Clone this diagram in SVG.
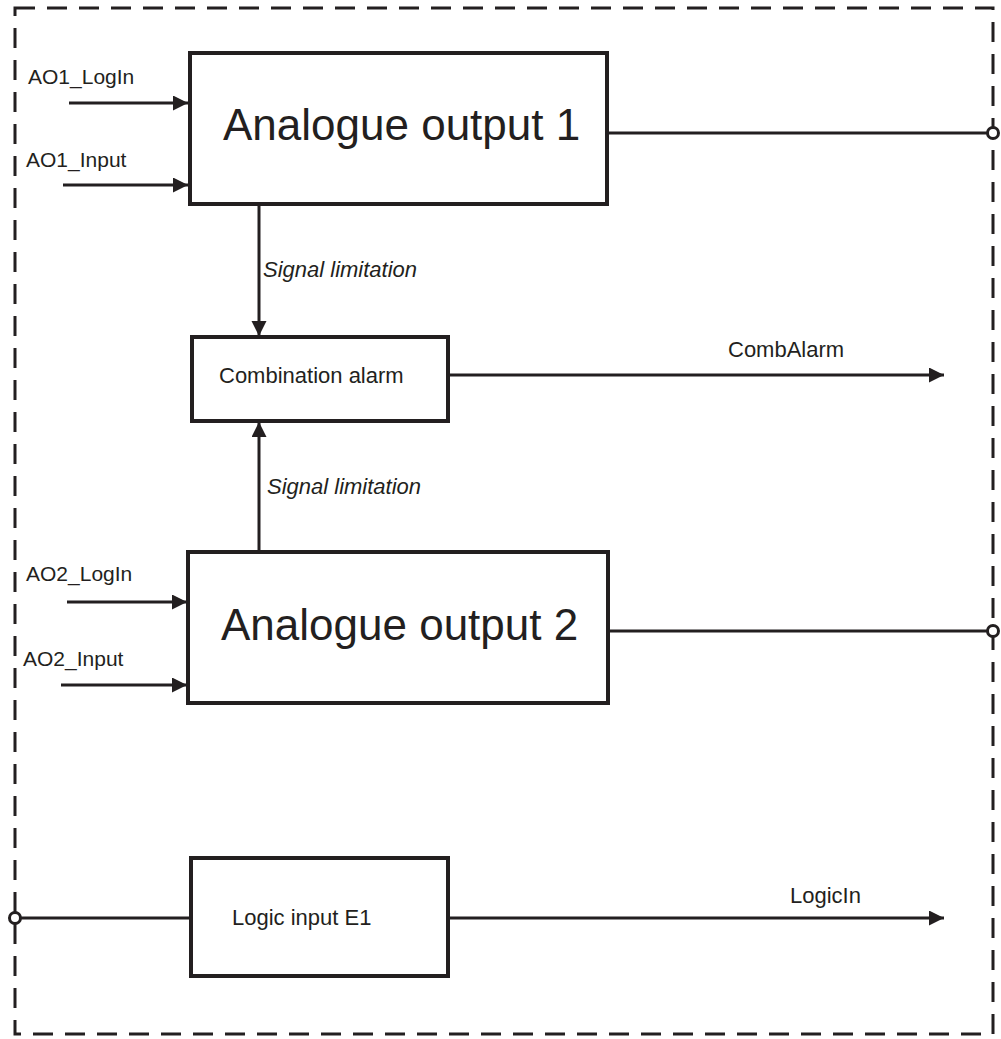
<svg xmlns="http://www.w3.org/2000/svg" width="1001" height="1039" viewBox="0 0 1001 1039">
<style>
.box{fill:#fff;stroke:#231f20;stroke-width:4}
.ln{fill:none;stroke:#231f20;stroke-width:3}
.t{font-family:"Liberation Sans",Arial,sans-serif;fill:#231f20}
.s{font-size:22px}
.a{font-size:21px}
.b{font-size:44px}
.i{font-style:italic}
.port{fill:#fff;stroke:#231f20;stroke-width:3}
</style>
<defs>
<marker id="ah" markerWidth="16" markerHeight="16" refX="15" refY="7.5" orient="auto" markerUnits="userSpaceOnUse">
<path d="M0,0 L15,7.5 L0,15 Z" fill="#231f20"/>
</marker>
</defs>
<rect x="15" y="8" width="978" height="1026" fill="none" stroke="#231f20" stroke-width="3" stroke-dasharray="20 12"/>
<g id="connectors">
<line class="ln" x1="69" y1="103" x2="188" y2="103" marker-end="url(#ah)"/>
<line class="ln" x1="63" y1="185" x2="188" y2="185" marker-end="url(#ah)"/>
<line class="ln" x1="607" y1="133" x2="987" y2="133"/>
<line class="ln" x1="259" y1="205" x2="259" y2="336" marker-end="url(#ah)"/>
<line class="ln" x1="259" y1="551" x2="259" y2="422" marker-end="url(#ah)"/>
<line class="ln" x1="448" y1="375" x2="944" y2="375" marker-end="url(#ah)"/>
<line class="ln" x1="67" y1="602" x2="187" y2="602" marker-end="url(#ah)"/>
<line class="ln" x1="61" y1="685" x2="187" y2="685" marker-end="url(#ah)"/>
<line class="ln" x1="608" y1="631" x2="987" y2="631"/>
<line class="ln" x1="21" y1="918" x2="191" y2="918"/>
<line class="ln" x1="448" y1="918" x2="944" y2="918" marker-end="url(#ah)"/>
<circle class="port" cx="993" cy="133" r="5.5"/>
<circle class="port" cx="993" cy="631" r="5.5"/>
<circle class="port" cx="15" cy="918" r="5.5"/>
<text class="t s i" x="263" y="277">Signal limitation</text>
<text class="t s i" x="267" y="494">Signal limitation</text>
<text class="t a" x="28" y="84">AO1_LogIn</text>
<text class="t a" x="26" y="167">AO1_Input</text>
<text class="t a" x="26" y="581">AO2_LogIn</text>
<text class="t a" x="23" y="666">AO2_Input</text>
<text class="t s" x="728" y="357">CombAlarm</text>
<text class="t s" x="790" y="903">LogicIn</text>
</g>
<g id="ao1">
<rect class="box" x="190" y="53" width="417" height="151"/>
<text class="t b" x="223" y="140">Analogue output 1</text>
</g>
<g id="comb">
<rect class="box" x="192" y="337" width="256" height="84"/>
<text class="t s" x="219" y="383">Combination alarm</text>
</g>
<g id="ao2">
<rect class="box" x="188" y="552" width="420" height="151"/>
<text class="t b" x="221" y="640">Analogue output 2</text>
</g>
<g id="logic">
<rect class="box" x="191" y="858" width="257" height="118"/>
<text class="t s" x="232" y="925">Logic input E1</text>
</g>
</svg>
